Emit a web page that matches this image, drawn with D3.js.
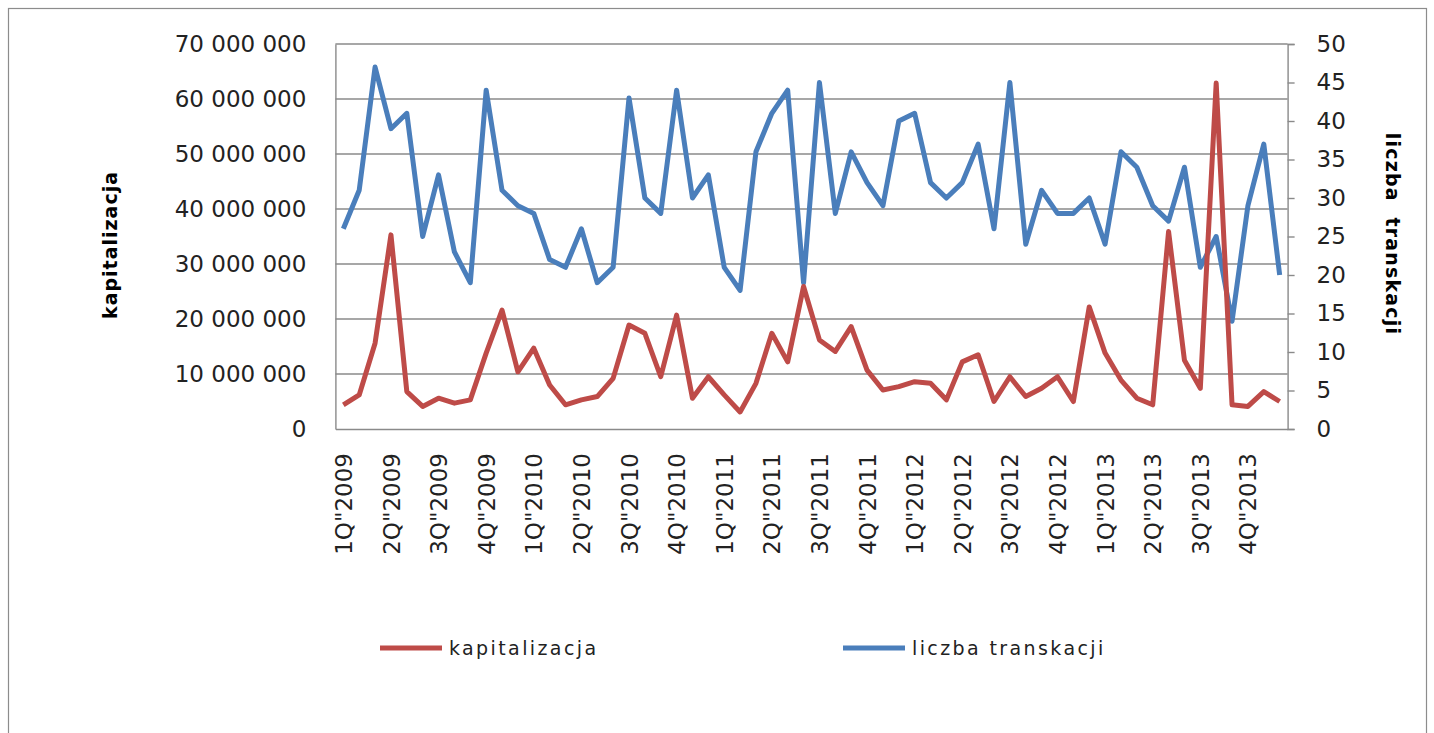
<!DOCTYPE html>
<html>
<head>
<meta charset="utf-8">
<script src="https://cdn.jsdelivr.net/npm/d3@7"></script>
<style>
  body { margin: 0; background: #fff; }
  svg { display: block; }
  .tick text { font-family: "DejaVu Sans", Verdana, sans-serif; font-size: 23px; fill: #222; }
</style>
</head>
<body>
<svg width="1434" height="733"></svg>
<script>
// quarter labels shown under every 3rd month
let quarterLabels = ['1Q"2009','2Q"2009','3Q"2009','4Q"2009',
                     '1Q"2010','2Q"2010','3Q"2010','4Q"2010',
                     '1Q"2011','2Q"2011','3Q"2011','4Q"2011',
                     '1Q"2012','2Q"2012','3Q"2012','4Q"2012',
                     '1Q"2013','2Q"2013','3Q"2013','4Q"2013']

// monthly values, Jan 2009 .. Dec 2013 (millions)
let kapitalizacja = [4.4, 6.2, 15.6, 35.3, 6.8, 4.1, 5.6, 4.7, 5.3, 13.8, 21.6, 10.4,
                     14.7, 8.0, 4.4, 5.3, 5.9, 9.2, 18.9, 17.4, 9.5, 20.7, 5.6, 9.5,
                     6.2, 3.1, 8.3, 17.4, 12.2, 25.9, 16.2, 14.1, 18.6, 10.7, 7.1, 7.7,
                     8.6, 8.3, 5.3, 12.2, 13.5, 5.0, 9.5, 5.9, 7.4, 9.5, 5.0, 22.2,
                     13.8, 8.9, 5.6, 4.4, 35.9, 12.5, 7.4, 62.9, 4.4, 4.1, 6.8, 5.0].map(v => v * 1e6)

let liczbaTransakcji = [26, 31, 47, 39, 41, 25, 33, 23, 19, 44, 31, 29,
                        28, 22, 21, 26, 19, 21, 43, 30, 28, 44, 30, 33,
                        21, 18, 36, 41, 44, 19, 45, 28, 36, 32, 29, 40,
                        41, 32, 30, 32, 37, 26, 45, 24, 31, 28, 28, 30,
                        24, 36, 34, 29, 27, 34, 21, 25, 14, 29, 37, 20]

let leftTicks = [0, 10e6, 20e6, 30e6, 40e6, 50e6, 60e6, 70e6]
let rightTicks = [0, 5, 10, 15, 20, 25, 30, 35, 40, 45, 50]

const RED = "#be4b48", BLUE = "#4a7ebb", GRID = "#8a8a8a"
const plot = {left: 335.4, right: 1287.6, top: 44, bottom: 429}

let svg = d3.select("svg")

// outer frame
svg.append("rect")
   .attr("x", 8.5).attr("y", 8.5).attr("width", 1418).attr("height", 740)
   .attr("fill", "none").attr("stroke", "#8c8c8c").attr("stroke-width", 1.2)

let months = d3.range(kapitalizacja.length)
let x = d3.scalePoint().domain(months).range([plot.left, plot.right]).padding(0.5)
let yL = d3.scaleLinear().domain([0, 70e6]).range([plot.bottom, plot.top])
let yR = d3.scaleLinear().domain([0, 50]).range([plot.bottom, plot.top])

// gridlines
svg.append("g")
   .selectAll("line")
   .data(leftTicks.slice(1))
   .join("line")
   .attr("x1", plot.left).attr("x2", plot.right)
   .attr("y1", d => yL(d)).attr("y2", d => yL(d))
   .attr("stroke", GRID).attr("stroke-width", 1.4)

// left axis
let fmt = d => d3.format(",")(d).replace(/,/g, " ")
let gL = svg.append("g")
   .attr("transform", `translate(${plot.left},0)`)
   .call(d3.axisLeft(yL).tickValues(leftTicks).tickSize(0).tickPadding(29).tickFormat(fmt))
gL.select(".domain").attr("stroke", GRID).attr("stroke-width", 1.4)

// right axis
let gR = svg.append("g")
   .attr("transform", `translate(${plot.right},0)`)
   .call(d3.axisRight(yR).tickValues(rightTicks).tickSize(7).tickPadding(22))
gR.select(".domain").attr("stroke", GRID).attr("stroke-width", 1.4)
gR.selectAll(".tick line").attr("stroke", GRID).attr("stroke-width", 1.4)
gR.selectAll(".tick text").attr("text-anchor", "start")

// bottom axis, labels rotated
let gX = svg.append("g")
   .attr("transform", `translate(0,${plot.bottom})`)
   .call(d3.axisBottom(x).tickSize(0)
           .tickFormat(i => i % 3 == 0 ? quarterLabels[i / 3] : ""))
gX.select(".domain").attr("stroke", GRID).attr("stroke-width", 1.4)
gX.selectAll(".tick text")
  .attr("transform", "rotate(-90)")
  .attr("text-anchor", "end")
  .attr("x", -24).attr("y", 0).attr("dy", "0.35em")

// lines
let lineL = d3.line().x((d, i) => x(i)).y(d => yL(d))
let lineR = d3.line().x((d, i) => x(i)).y(d => yR(d))

svg.append("path").datum(liczbaTransakcji)
   .attr("d", lineR).attr("fill", "none")
   .attr("stroke", BLUE).attr("stroke-width", 5).attr("stroke-linejoin", "round")

svg.append("path").datum(kapitalizacja)
   .attr("d", lineL).attr("fill", "none")
   .attr("stroke", RED).attr("stroke-width", 5).attr("stroke-linejoin", "round")

// axis titles
svg.append("text")
   .attr("transform", "translate(117,245) rotate(-90)")
   .attr("text-anchor", "middle")
   .style("font-family", "'DejaVu Sans', sans-serif").style("font-size", "19px")
   .style("font-weight", "bold").style("letter-spacing", "1px")
   .text("kapitalizacja")

svg.append("text")
   .attr("transform", "translate(1386,234) rotate(90)")
   .attr("text-anchor", "middle")
   .style("font-family", "'DejaVu Sans', sans-serif").style("font-size", "19px")
   .style("font-weight", "bold").style("letter-spacing", "1.2px")
   .style("white-space", "pre")
   .text("liczba  transkacji")

// legend
let legend = [{name: "kapitalizacja", color: RED, x: 380},
              {name: "liczba transkacji", color: BLUE, x: 843}]
let lg = svg.append("g").selectAll("g").data(legend).join("g")
   .attr("transform", d => `translate(${d.x},648)`)
lg.append("line").attr("x1", 0).attr("x2", 62).attr("y1", 0).attr("y2", 0)
  .attr("stroke", d => d.color).attr("stroke-width", 5)
lg.append("text").attr("x", 69).attr("y", 7)
  .style("font-family", "'DejaVu Sans', sans-serif").style("font-size", "19px")
  .style("letter-spacing", "2.4px").style("fill", "#222")
  .text(d => d.name)
</script>
</body>
</html>
